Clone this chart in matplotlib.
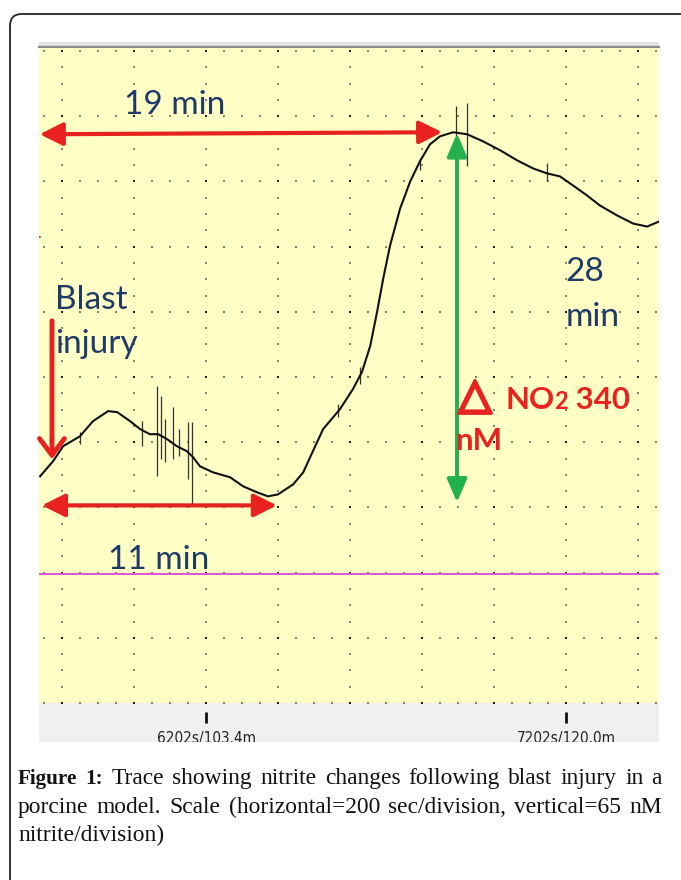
import numpy as np
import matplotlib
matplotlib.use('Agg')
import matplotlib.pyplot as plt
import matplotlib.patheffects as pe
from matplotlib.patches import FancyBboxPatch, Rectangle

# Trace: time (s) vs nitrite (nM above screen bottom)
trace_t = [5741, 5777, 5805, 5852, 5888, 5930, 5955, 5991, 6019, 6046, 6069, 6094,
           6121, 6149, 6166, 6185, 6221, 6269, 6305, 6344, 6374, 6402, 6444, 6472, 6491,
           6527, 6574, 6610, 6635, 6658, 6677, 6694, 6713, 6741, 6769, 6796, 6824,
           6852, 6888, 6927, 6971, 7019, 7066, 7110, 7149, 7185, 7221, 7260, 7296,
           7344, 7388, 7427, 7460]
trace_v = [226, 241, 256, 266, 281, 291, 290, 281, 273, 268, 268, 263,
           256, 251, 245, 236, 230, 225, 216, 210, 206, 208, 218, 230, 245,
           273, 293, 313, 330, 356, 390, 423, 456, 493, 520, 540, 557,
           565, 569, 567, 560, 551, 541, 533, 528, 525, 516, 506, 496,
           486, 478, 475, 480]

# noise spikes on the trace
spike_t = [5852, 6024, 6066, 6077, 6088, 6110, 6127, 6152, 6163, 6569, 6630, 6796, 6896, 6927, 7149]
spike_hi = [270, 281, 316, 306, 283, 295, 273, 280, 280, 298, 335, 543, 595, 598, 538]
spike_lo = [258, 256, 226, 243, 240, 243, 246, 223, 198, 285, 318, 531, 565, 535, 520]

tick_pos = [6202, 7202]
tick_labels = ['6202s/103.4m', '7202s/120.0m']

caption_lines = [
    'Figure 1: Trace showing nitrite changes following blast injury in a',
    'porcine model. Scale (horizontal=200 sec/division, vertical=65 nM',
    'nitrite/division)',
]

RED = '#e8231f'
GREEN = '#22b14c'
NAVY = '#1f3a66'
W, H = 681, 880

fig = plt.figure(figsize=(W / 100, H / 100), dpi=100)
renderer = fig.canvas.get_renderer()

# overlay in pixel coords for frame and strips
bg = fig.add_axes([0, 0, 1, 1], zorder=0)
bg.set_xlim(0, W)
bg.set_ylim(H, 0)
bg.axis('off')
bg.add_patch(FancyBboxPatch((10, 14), 720, 920, boxstyle='round,pad=0,rounding_size=12',
                            fc='white', ec='#222222', lw=1.3))
bg.add_patch(Rectangle((39, 42), 620, 6, fc='#e2e2e2', ec='none'))
bg.plot([39, 659], [47.5, 47.5], color='#8a8a8a', lw=1.6)

# main chart
ax = fig.add_axes([39 / W, (H - 703) / H, 620 / W, 655 / H], zorder=2)
ax.set_facecolor('#ffffc6')
ax.set_xlim(5738, 7460)
ax.set_ylim(0, 653)
for s in ax.spines.values():
    s.set_visible(False)
ax.set_xticks([])
ax.set_yticks([])

# dotted grid (200 s and 65 nM per division)
maj_x = np.arange(5602, 7461, 200)
min_x = np.arange(5602, 7461, 50)
maj_y = np.arange(0, 654, 65)
min_y = np.arange(0, 654, 16.25)
gx, gy = np.meshgrid(maj_x, min_y)
ax.scatter(gx.ravel(), gy.ravel(), s=1.4, marker='s', color='#85856f', lw=0, zorder=1)
gx, gy = np.meshgrid(min_x, maj_y)
ax.scatter(gx.ravel(), gy.ravel(), s=1.4, marker='s', color='#85856f', lw=0, zorder=1)
gx, gy = np.meshgrid(maj_x, maj_y)
ax.scatter(gx.ravel(), gy.ravel(), s=4, marker='s', color='#222222', lw=0, zorder=1)

ax.axhline(129, color='#e050d8', lw=1.4, zorder=2)

ax.vlines(spike_t, spike_lo, spike_hi, color='#333333', lw=0.9, zorder=3)
ax.plot(trace_t, trace_v, color='#111111', lw=1.5, zorder=4)

# annotations
ax.annotate('', xy=(6858, 569), xytext=(5740, 567),
            arrowprops=dict(arrowstyle='<|-|>,head_length=0.7,head_width=0.35', color=RED,
                            lw=3, shrinkA=0, shrinkB=0, mutation_scale=20), zorder=5)
ax.annotate('', xy=(6399, 197), xytext=(5746, 197),
            arrowprops=dict(arrowstyle='<|-|>,head_length=0.7,head_width=0.35', color=RED,
                            lw=3, shrinkA=0, shrinkB=0, mutation_scale=20), zorder=5)
ax.annotate('', xy=(5774, 243), xytext=(5774, 381),
            arrowprops=dict(arrowstyle='->,head_length=0.6,head_width=0.45', color=RED,
                            lw=3.5, shrinkA=0, shrinkB=0, mutation_scale=20), zorder=5)
ax.annotate('', xy=(6899, 568), xytext=(6899, 200),
            arrowprops=dict(arrowstyle='<|-|>,head_length=0.7,head_width=0.3', color=GREEN,
                            lw=2.8, shrinkA=0, shrinkB=0, mutation_scale=20), zorder=5)
ax.plot([5738, 5742], [465, 465], color=RED, lw=1.2, zorder=5)

txt = dict(family=['Lato', 'DejaVu Sans'], fontsize=24, color=NAVY, zorder=6)
ax.text(6116, 596, '19 min', ha='center', va='center', **txt)
ax.text(5783, 402, 'Blast', ha='left', va='center', **txt)
ax.text(5783, 358, 'injury', ha='left', va='center', **txt)
ax.text(7200, 430, '28', ha='left', va='center', **txt)
ax.text(7200, 385, 'min', ha='left', va='center', **txt)
ax.text(6069, 143, '11 min', ha='center', va='center', **txt)

# delta NO2 label, pieces placed one after another
ax.text(6949, 306, '\u25b3', ha='center', va='center', fontsize=31, color=RED,
        family=['DejaVu Sans'], zorder=6,
        path_effects=[pe.withStroke(linewidth=2.2, foreground=RED)])
red_txt = dict(family=['Lato', 'DejaVu Sans'], color=RED, weight='bold', zorder=6, va='baseline')
base_v = 293
x_cur = 7033
inv = ax.transData.inverted()
for piece, size in [('NO', 22.5), ('2', 17), (' 340', 22.5)]:
    t = ax.text(x_cur, base_v, piece, ha='left', fontsize=size, **red_txt)
    bb = t.get_window_extent(renderer)
    x_cur = inv.transform((bb.x1, bb.y0))[0]
ax.text(6895, 252, 'nM', ha='left', fontsize=22.5, **red_txt)

# bottom time strip
strip = fig.add_axes([39 / W, (H - 742) / H, 620 / W, 39 / H], zorder=1)
strip.set_facecolor('#f0f0f0')
strip.set_xlim(ax.get_xlim())
strip.set_ylim(0, 1)
for s in strip.spines.values():
    s.set_visible(False)
strip.set_xticks([])
strip.set_yticks([])
strip.vlines(tick_pos, 0.5, 0.77, color='#111111', lw=2)
for p, lab in zip(tick_pos, tick_labels):
    strip.text(p, -0.02, lab, ha='center', va='baseline', fontsize=11, fontstretch='condensed',
               family=['DejaVu Sans'], color='#222222', clip_on=True)

# justified caption, size fitted so line 2 fills the column
left, right = 18, 662
serif = ['Liberation Serif', 'DejaVu Serif']
probe = fig.text(0, 0, caption_lines[1], fontsize=15, family=serif)
cap_size = 15 * (right - left) / probe.get_window_extent(renderer).width * 0.985
probe.remove()

baselines = [784, 813, 841]
for i, line in enumerate(caption_lines):
    words = line.split()
    texts = []
    for j, w in enumerate(words):
        bold = (i == 0 and j < 2)
        t = fig.text(0, 0, w, fontsize=cap_size * (0.9 if bold else 1.0), family=serif,
                     weight='bold' if bold else 'normal', va='baseline', color='#111111')
        texts.append(t)
    widths = [t.get_window_extent(renderer).width for t in texts]
    if i < len(caption_lines) - 1 and len(words) > 1:
        gap = (right - left - sum(widths)) / (len(words) - 1)
    else:
        gap = cap_size * 0.3
    x = left
    for t, w in zip(texts, widths):
        t.set_position((x / W, 1 - baselines[i] / H))
        x += w + gap

fig.savefig('out.png', dpi=100)
